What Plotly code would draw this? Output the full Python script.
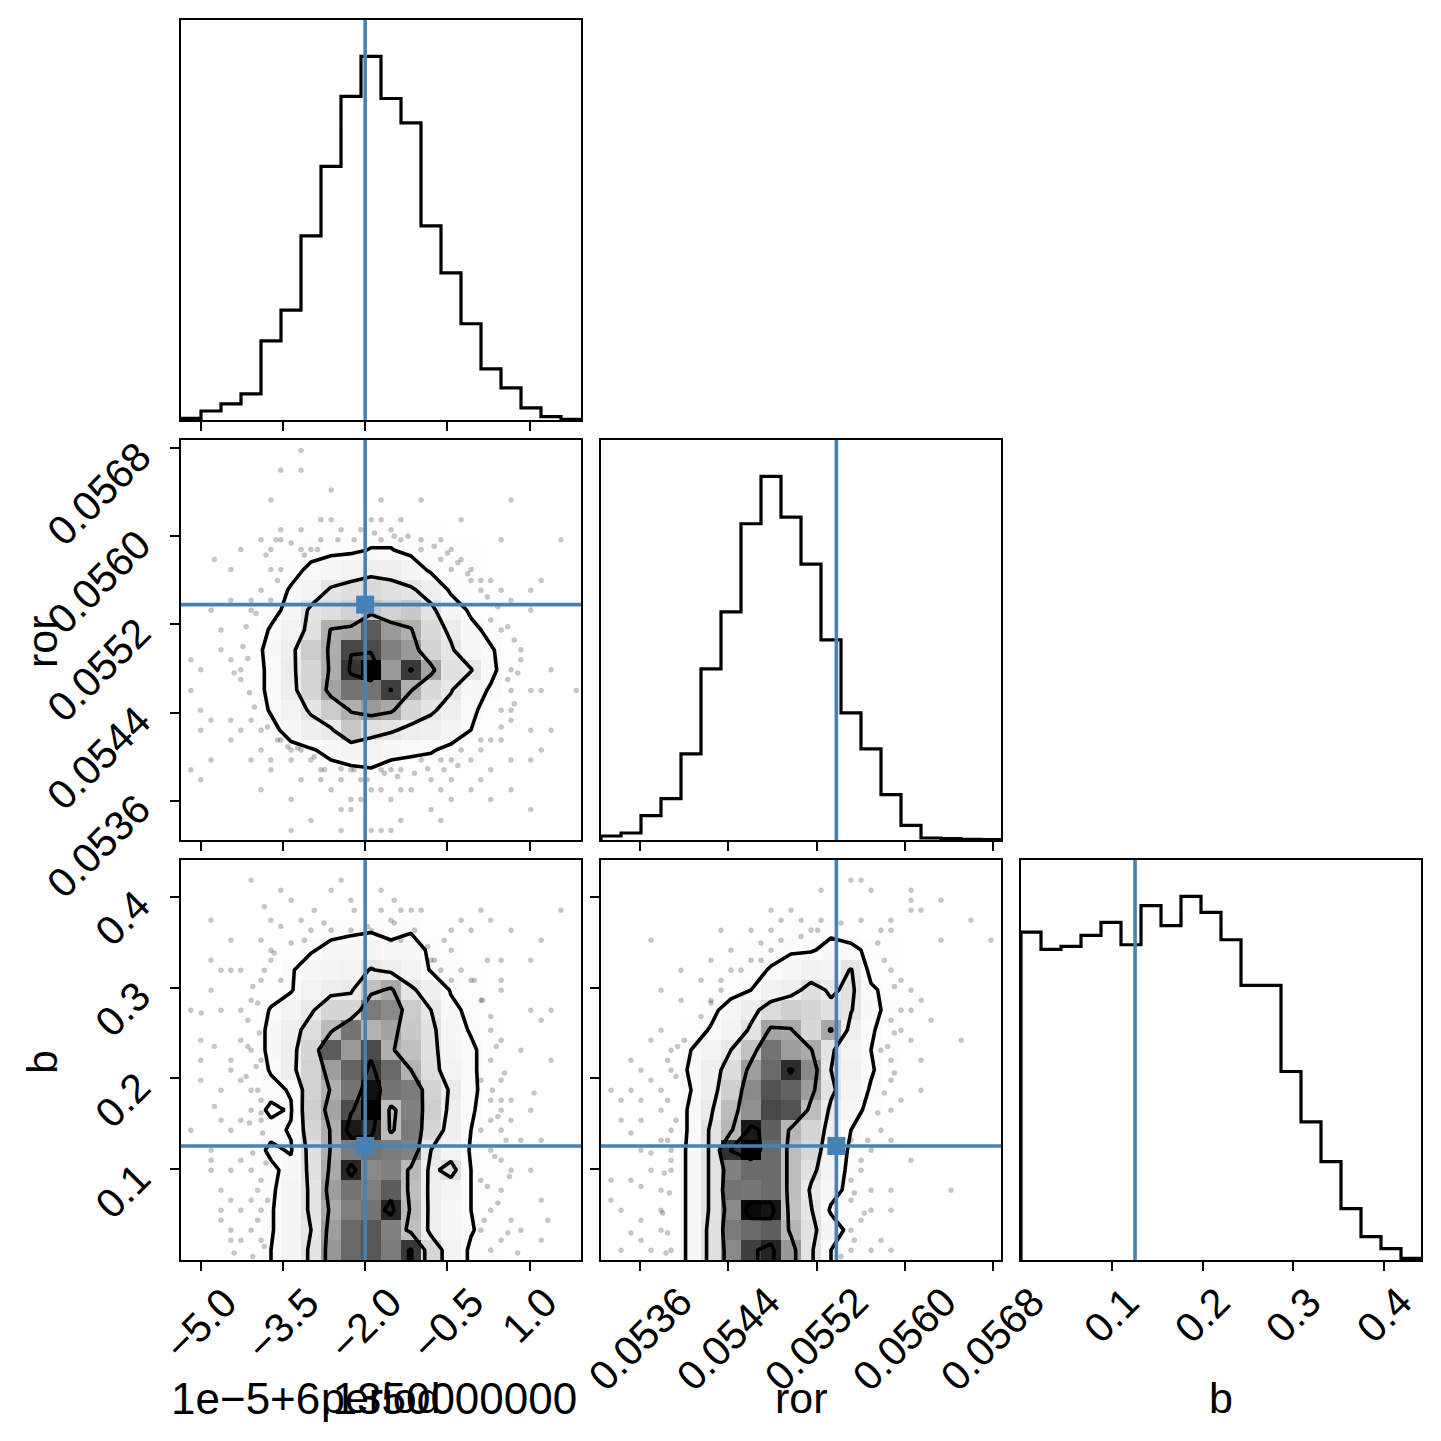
import numpy as np
import plotly.graph_objects as go

# ---------------- data ----------------
period_range = [-5.359, 1.936]      # displayed units (1e-5, offset 6.135)
ror_range = [0.053243, 0.056875]
b_range = [0.0002, 0.4403]
nbins = 20

truth_period = -2.0
truth_ror = 0.05538
truth_b = 0.1257

period_ticks = [-5.0, -3.5, -2.0, -0.5, 1.0]
period_ticktext = ["\u22125.0", "\u22123.5", "\u22122.0", "\u22120.5", "1.0"]
ror_ticks = [0.0536, 0.0544, 0.0552, 0.0560, 0.0568]
ror_ticktext = ["0.0536", "0.0544", "0.0552", "0.0560", "0.0568"]
b_ticks = [0.1, 0.2, 0.3, 0.4]
b_ticktext = ["0.1", "0.2", "0.3", "0.4"]

period_counts = [5, 27, 48, 78, 237, 329, 551, 759, 968, 1088, 962, 889, 581, 440, 288, 153, 96, 36, 10, 2]
ror_counts = [12, 21, 73, 124, 258, 513, 684, 948, 1090, 968, 827, 600, 381, 273, 136, 44, 6, 4, 2, 1]
b_counts = [983, 931, 940, 973, 1012, 945, 1062, 1002, 1090, 1042, 960, 823, 823, 565, 414, 295, 154, 70, 34, 5]

# 2D histograms, rows listed from the top of each panel (high y) to the bottom
H_period_ror = [
    [0, 0, 0, 0, 0, 0, 1, 2, 1, 1, 1, 0, 0, 0, 0, 0, 0, 0, 0, 0],
    [0, 0, 0, 0, 0, 1, 2, 2, 2, 1, 1, 1, 1, 0, 0, 0, 1, 0, 0, 0],
    [0, 0, 0, 0, 2, 3, 3, 4, 4, 3, 4, 4, 3, 3, 2, 2, 1, 0, 0, 0],
    [0, 0, 0, 1, 3, 4, 5, 5, 6, 6, 6, 6, 5, 4, 3, 3, 2, 1, 0, 0],
    [0, 0, 1, 2, 4, 6, 8, 8, 9, 9, 9, 9, 8, 7, 6, 5, 3, 2, 1, 0],
    [0, 1, 2, 3, 5, 8, 10, 11, 11, 13.5, 13.5, 10, 10, 9, 8, 7, 5, 3, 1, 0],
    [0, 1, 2, 4, 6, 10, 15, 18, 22, 26, 25, 20, 11, 9, 8, 7, 5, 3, 1, 0],
    [0, 1, 3, 5, 8, 14, 20, 32, 36, 38, 35, 32, 24, 11, 10, 9, 6, 4, 2, 1],
    [0, 1, 3, 6, 10, 16, 33, 36, 42, 48, 42, 46, 33, 20, 11, 9, 7, 4, 2, 1],
    [0, 2, 4, 7, 14, 22, 34, 56, 58, 80, 63, 56, 38, 27, 16, 10, 7, 4, 2, 1],
    [0, 2, 4, 9, 16, 26, 45, 57, 85, 84, 71, 63, 42, 32, 18, 14, 8, 5, 2, 1],
    [0, 2, 4, 9, 15, 27, 40, 57, 89, 100, 63, 88, 60, 34, 31, 15, 8, 5, 2, 1],
    [0, 2, 4, 9, 15, 26, 40, 60, 74, 74, 87, 56, 39, 31, 17, 12, 7, 4, 2, 1],
    [0, 1, 3, 7, 14, 22, 32, 45, 56, 63, 58, 40, 32, 25, 15, 9, 6, 4, 2, 1],
    [0, 1, 3, 6, 10, 17, 24, 28, 47, 35, 32, 26, 24, 20, 13, 8, 5, 3, 1, 0],
    [0, 1, 2, 4, 7, 10, 12, 16, 20, 22, 16, 15, 14, 10, 7, 5, 3, 2, 1, 0],
    [0, 1, 2, 3, 5, 7, 9, 10, 11, 12, 10, 9, 8, 7, 5, 4, 3, 2, 1, 0],
    [0, 0, 1, 2, 4, 5, 6, 7, 8, 8, 7, 7, 6, 5, 4, 3, 2, 1, 0, 0],
    [0, 0, 1, 1, 2, 3, 4, 4, 5, 5, 5, 4, 4, 3, 2, 2, 1, 1, 0, 0],
    [0, 0, 0, 1, 1, 2, 2, 2, 3, 3, 3, 2, 2, 2, 1, 1, 0, 0, 0, 0],
]

H_period_b = [
    [0, 0, 0, 0, 1, 1, 2, 2, 2, 2, 2, 2, 2, 1, 1, 1, 0, 0, 0, 0],
    [0, 0, 1, 1, 2, 2, 3, 3, 4, 3, 3, 4, 4, 3, 2, 2, 1, 1, 0, 0],
    [0, 1, 1, 2, 3, 4, 5, 6, 6, 6, 6, 6, 6, 5, 4, 3, 2, 1, 1, 0],
    [0, 1, 2, 3, 4, 6, 8, 10, 11, 12, 10, 12, 9, 7, 5, 4, 3, 2, 1, 0],
    [0, 1, 2, 3, 5, 8, 12, 16, 18, 20, 16, 18, 11, 8, 6, 5, 3, 2, 1, 0],
    [0, 1, 2, 4, 7, 12, 18, 20, 22, 31, 26, 22, 12, 10, 8, 6, 4, 2, 1, 0],
    [0, 1, 3, 5, 8, 12, 22, 26, 28, 50, 58, 32, 24, 12, 9, 7, 4, 2, 1, 0],
    [0, 2, 3, 5, 14, 20, 28, 40, 40, 72, 68, 45, 30, 16, 10, 7, 5, 2, 1, 0],
    [0, 2, 3, 6, 16, 24, 36, 52, 74, 55, 60, 46, 34, 18, 12, 8, 5, 3, 1, 0],
    [0, 2, 3, 6, 16, 26, 40, 80, 63, 84, 56, 50, 35, 20, 15, 8, 5, 3, 1, 0],
    [0, 2, 3, 6, 14, 26, 42, 62, 78, 88, 77, 55, 36, 22, 15, 8, 5, 3, 1, 0],
    [0, 2, 3, 7, 10, 14, 42, 56, 74, 97, 74, 72, 42, 28, 15, 9, 5, 3, 1, 0],
    [0, 2, 4, 8, 15, 12, 44, 60, 84, 100, 50, 70, 44, 26, 14, 9, 5, 3, 1, 0],
    [0, 2, 4, 7, 10, 14, 40, 56, 95, 92, 52, 72, 40, 24, 13, 9, 5, 3, 1, 0],
    [0, 2, 4, 8, 15, 12, 36, 56, 72, 74, 72, 70, 30, 22, 12, 9, 5, 3, 1, 0],
    [0, 2, 4, 7, 11, 16, 34, 58, 92, 68, 70, 52, 26, 36, 13, 8, 5, 3, 1, 0],
    [0, 2, 3, 6, 11, 20, 32, 62, 74, 71, 80, 50, 26, 20, 13, 8, 5, 3, 1, 0],
    [0, 2, 3, 6, 12, 20, 32, 58, 71, 74, 92, 52, 26, 18, 13, 8, 5, 3, 1, 0],
    [0, 2, 3, 6, 12, 20, 30, 62, 77, 81, 70, 50, 26, 18, 14, 8, 5, 3, 1, 0],
    [0, 2, 3, 6, 13, 20, 32, 64, 77, 81, 72, 88, 40, 22, 11, 8, 5, 3, 1, 0],
]

H_ror_b = [
    [0, 0, 0, 0, 0, 0, 0, 0, 0, 0, 0, 0, 1, 1, 1, 1, 0, 0, 0, 0],
    [0, 0, 0, 0, 0, 0, 0, 0, 1, 1, 1, 2, 2, 2, 2, 1, 1, 0, 0, 0],
    [0, 0, 0, 0, 0, 1, 1, 2, 3, 3, 4, 4, 4, 3, 3, 2, 1, 1, 0, 0],
    [0, 0, 0, 1, 1, 2, 3, 4, 6, 8, 9, 11, 9, 7, 5, 4, 2, 1, 0, 0],
    [0, 0, 1, 1, 2, 3, 5, 8, 11, 12, 12, 16, 15, 11, 8, 5, 3, 1, 0, 0],
    [0, 0, 1, 2, 3, 5, 8, 11, 13.5, 17, 22, 20, 31, 9, 8, 5, 3, 1, 0, 0],
    [0, 0, 1, 2, 4, 7, 9, 13, 22, 25, 35, 28, 33, 15, 9, 5, 3, 1, 0, 0],
    [0, 1, 2, 3, 5, 10, 18, 26, 36, 42, 40, 33, 31, 16, 10, 5, 3, 1, 0, 0],
    [0, 1, 2, 4, 8, 14, 20, 32, 58, 56, 38, 57, 24, 14, 9, 5, 3, 1, 0, 0],
    [0, 1, 2, 4, 13, 20, 30, 48, 72, 60, 56, 32, 20, 13, 8, 5, 3, 1, 0, 0],
    [0, 1, 2, 5, 15, 24, 36, 60, 74, 88, 66, 30, 22, 14, 8, 4, 2, 1, 0, 0],
    [0, 1, 2, 5, 13, 24, 42, 66, 80, 76, 60, 33, 20, 12, 7, 4, 2, 1, 0, 0],
    [0, 1, 2, 5, 15, 28, 50, 64, 82, 80, 50, 27, 17, 10, 6, 4, 2, 1, 0, 0],
    [0, 1, 2, 5, 15, 32, 52, 92, 77, 52, 40, 25, 13, 9, 6, 4, 2, 1, 0, 0],
    [0, 1, 2, 5, 16, 32, 87, 97, 74, 50, 38, 22, 11, 8, 5, 3, 2, 1, 0, 0],
    [0, 1, 2, 5, 16, 32, 68, 74, 74, 50, 34, 20, 10, 7, 5, 3, 2, 1, 0, 0],
    [0, 1, 2, 5, 16, 32, 72, 71, 74, 50, 28, 18, 9, 6, 4, 3, 2, 1, 0, 0],
    [0, 1, 2, 5, 16, 32, 66, 95, 93, 48, 31, 11, 8, 6, 4, 3, 2, 1, 0, 0],
    [0, 1, 2, 5, 16, 34, 70, 74, 77, 52, 34, 20, 9, 6, 4, 3, 2, 1, 0, 0],
    [0, 1, 2, 5, 16, 34, 66, 84, 90, 62, 32, 13, 8, 5, 4, 2, 1, 1, 0, 0],
]

contour_levels = [13, 30, 55, 86]

# samples lying outside the outer contour
pr_period = [-3.17, -3.54, -3.17, -2.62, -3.72, -1.71, -0.98, 0.66, -2.81, -2.62, -1.89, -1.71, -1.35, -0.25,
             -3.54, -3.17, -2.44, -2.08, -1.53, 0.48, -3.90, -3.72, -3.54, -3.17, -2.99, -2.81, -1.71, -1.35,
             -0.62, -0.43, -0.25, 1.57, -4.27, -3.72, -3.54, -4.45, -4.75, -0.98, -0.62, -0.43, -0.07, -0.07,
             0.29, 1.02, 1.21, 0.48, 0.66, 0.11, -4.08, -3.72, -4.45, -4.81, -4.08, 1.02, 0.29, 0.48, -4.63,
             -4.63, -5.18, -5.00, -4.45, -4.27, -5.18, -4.27, 0.84, 0.84, 0.66, 1.39, 1.02, 1.21, 0.66, 1.85,
             1.39, 1.02, 0.66, 0.48, -5.00, -4.81, -5.00, -4.45, -4.27, -4.08, -3.90, -3.54, -4.45, -3.90,
             -3.72, -3.35, -3.17, -2.99, -5.18, -5.00, -4.81, -4.08, -3.72, -3.35, -2.81, -2.81, -2.44, -2.26,
             -2.08, -1.71, -1.53, -1.35, -0.98, -0.62, -0.43, -0.25, 0.11, 0.48, 0.66, 1.02, 1.21, 0.29, 0.66,
             0.11, -0.07, -0.43, -0.62, -0.80, -1.16, -1.35, -1.53, -1.71, -1.89, -2.08, -2.26, -2.62, -3.17,
             -3.35, -3.90, -2.99, -2.44, -2.26, -1.71, -1.35, -0.80, -0.62, -0.43, 0.29, 1.02, -3.35, -2.44,
             -1.89, -1.53,
             -3.63, -3.35, -3.81, -3.60, -3.90, -3.99, -4.17, -4.23, -4.14, -4.39, -4.11, -4.02, -3.78, -3.60,
             -3.41, -3.23, -2.93, -2.74, -2.44, -2.20, -1.96, -1.65, -1.41, -1.10, -0.86, -0.56, -0.31, -0.07,
             0.11, 0.29, 0.48, 0.66, 0.72, 0.60, 0.78, 0.72, 0.60, 0.42, 0.23, 0.11, -0.13, -0.31, -0.50, -0.74,
             -0.98, -1.22, -1.47, -1.83, -2.20, -2.50, -2.87, -3.11]
pr_ror = [0.05678, 0.05660, 0.05660, 0.05642, 0.05633, 0.05633, 0.05633, 0.05633, 0.05615, 0.05615, 0.05615,
          0.05615, 0.05615, 0.05615, 0.05606, 0.05606, 0.05606, 0.05606, 0.05606, 0.05597, 0.05597, 0.05588,
          0.05597, 0.05588, 0.05588, 0.05597, 0.05597, 0.05597, 0.05597, 0.05588, 0.05579, 0.05597, 0.05588,
          0.05570, 0.05570, 0.05570, 0.05579, 0.05588, 0.05579, 0.05570, 0.05570, 0.05560, 0.05560, 0.05551,
          0.05560, 0.05551, 0.05542, 0.05551, 0.05542, 0.05542, 0.05542, 0.05533, 0.05533, 0.05533, 0.05524,
          0.05515, 0.05515, 0.05497, 0.05488, 0.05479, 0.05488, 0.05479, 0.05460, 0.05470, 0.05497, 0.05488,
          0.05479, 0.05479, 0.05460, 0.05460, 0.05460, 0.05460, 0.05424, 0.05424, 0.05442, 0.05442, 0.05442,
          0.05433, 0.05424, 0.05433, 0.05424, 0.05433, 0.05424, 0.05415, 0.05415, 0.05406, 0.05397, 0.05406,
          0.05406, 0.05397, 0.05388, 0.05379, 0.05397, 0.05397, 0.05388, 0.05397, 0.05388, 0.05379, 0.05379,
          0.05388, 0.05379, 0.05388, 0.05388, 0.05388, 0.05397, 0.05397, 0.05397, 0.05406, 0.05415, 0.05415,
          0.05397, 0.05397, 0.05406, 0.05388, 0.05370, 0.05379, 0.05370, 0.05379, 0.05370, 0.05379, 0.05370,
          0.05370, 0.05361, 0.05370, 0.05370, 0.05361, 0.05361, 0.05370, 0.05379, 0.05361, 0.05370, 0.05342,
          0.05352, 0.05352, 0.05333, 0.05342, 0.05352, 0.05342, 0.05361, 0.05361, 0.05352, 0.05333, 0.05333,
          0.05333, 0.05333,
          0.05597, 0.05594, 0.05583, 0.05560, 0.05551, 0.05530, 0.05518, 0.05500, 0.05489, 0.05476, 0.05458,
          0.05445, 0.05427, 0.05415, 0.05409, 0.05408, 0.05400, 0.05388, 0.05389, 0.05388, 0.05379, 0.05385,
          0.05382, 0.05385, 0.05389, 0.05388, 0.05392, 0.05397, 0.05406, 0.05415, 0.05427, 0.05433, 0.05448,
          0.05470, 0.05476, 0.05506, 0.05518, 0.05536, 0.05545, 0.05560, 0.05566, 0.05576, 0.05585, 0.05591,
          0.05597, 0.05600, 0.05600, 0.05603, 0.05597, 0.05597, 0.05588, 0.05583]

pb_period = [-4.08, -3.54, -3.35, -2.62, -2.26, -2.44, -1.71, -1.35, -1.16, -0.98, -1.53, 0.11, 1.57, -4.81,
             -3.72, -3.17, -2.99, -2.62, -2.26, -3.90, -3.72, -1.89, -1.53, -1.35, -0.43, -0.25, -0.07, 0.29,
             0.66, 1.21, -4.45, -4.81, -4.63, -4.45, -4.27, -3.90, -3.54, -3.72, -0.80, -0.62, -0.43, -0.25,
             -0.07, 0.48, 1.02, 0.48, 0.48, 0.11, 1.02, 1.39, -5.18, -4.63, -4.27, -4.08, -4.81, -0.43,
             -5.00, -4.27, -5.00, -4.45, -4.08, -3.90, -5.00, -4.63, -4.45, -4.27, -4.08, -3.90, -5.18, -4.63,
             -4.45, -4.27, -4.08, -3.90, -4.81, -4.27, -4.45, -4.08, -3.90, -4.63, -4.45, -4.08, -3.90, -4.27,
             -4.63, -4.45, -4.08, -3.90, -4.45, -4.27, -4.81, 0.29, 0.48, 0.84, 1.39, 0.29, 0.48, 0.11, 0.29,
             0.48, 0.66, 1.02, 0.29, 0.11, 0.48, 0.84, 1.21, 0.29, 0.48, 0.66, 1.02, 0.11, 0.48, 1.21, 0.29,
             0.66, 0.84, 1.21, 0.11, 0.48,
             -3.66, -3.84, -4.05, -3.96, -4.14, -3.93, -4.14, -3.99, -4.17, -3.96, -3.90, -4.11, -3.87, -4.05,
             -3.81, -3.96, -3.78, -3.96, -3.84, -4.05, -4.39, -4.63, -4.81, -4.75, -4.99, -4.75,
             0.23, -0.01, 0.14, 0.29, 0.39, 0.54, 0.32, 0.48, 0.66, 0.42, 0.57, 0.36, 0.63, 0.23, 0.42, 0.17,
             0.60, 0.29, 0.78, 1.33, 1.08, 1.21,
             -2.93, -2.75, -2.20, -1.96, -1.71, -1.47, -1.10, -0.86, -0.56, -0.74, -3.35, -3.11, -3.54, -3.84,
             -1.47]
pb_b = [0.418, 0.407, 0.396, 0.407, 0.396, 0.418, 0.407, 0.385, 0.385, 0.385, 0.374, 0.385, 0.385, 0.374,
        0.374, 0.374, 0.363, 0.363, 0.363, 0.352, 0.341, 0.363, 0.352, 0.352, 0.363, 0.374, 0.363, 0.374,
        0.363, 0.352, 0.352, 0.330, 0.319, 0.319, 0.319, 0.308, 0.308, 0.330, 0.330, 0.319, 0.308, 0.319,
        0.308, 0.330, 0.330, 0.308, 0.297, 0.286, 0.275, 0.275, 0.275, 0.275, 0.275, 0.286, 0.297, 0.341,
        0.242, 0.242, 0.220, 0.220, 0.231, 0.220, 0.198, 0.187, 0.209, 0.198, 0.187, 0.176, 0.143, 0.154,
        0.143, 0.154, 0.165, 0.154, 0.121, 0.110, 0.099, 0.099, 0.088, 0.077, 0.066, 0.066, 0.055, 0.055,
        0.044, 0.033, 0.033, 0.022, 0.022, 0.022, 0.099, 0.253, 0.242, 0.231, 0.220, 0.220, 0.198, 0.198,
        0.176, 0.165, 0.154, 0.165, 0.154, 0.143, 0.143, 0.132, 0.132, 0.121, 0.110, 0.099, 0.099, 0.088,
        0.077, 0.066, 0.055, 0.044, 0.033, 0.022, 0.033, 0.022,
        0.338, 0.319, 0.301, 0.283, 0.264, 0.250, 0.235, 0.213, 0.202, 0.187, 0.162, 0.151, 0.140, 0.118,
        0.107, 0.077, 0.066, 0.044, 0.015, 0.004, 0.008, 0.055, 0.110, 0.169, 0.272, 0.235,
        0.330, 0.308, 0.286, 0.268, 0.235, 0.206, 0.187, 0.176, 0.176, 0.158, 0.132, 0.114, 0.092, 0.081,
        0.063, 0.044, 0.030, 0.011, 0.008, 0.044, 0.184, 0.264,
        0.385, 0.371, 0.385, 0.367, 0.385, 0.371, 0.363, 0.345, 0.352, 0.330, 0.349, 0.352, 0.367, 0.389,
        0.396]

rb_ror = [0.055241, 0.055604, 0.055513, 0.055695, 0.056058, 0.056058, 0.056330, 0.054787, 0.054968, 0.055241,
          0.054605, 0.054787, 0.054877, 0.055059, 0.055150, 0.055604, 0.055785, 0.055876, 0.055876, 0.056058,
          0.056149, 0.056603, 0.056330, 0.056784, 0.054333, 0.053697, 0.054423, 0.054605, 0.054696, 0.054787,
          0.054423, 0.054242, 0.053969, 0.054151, 0.054333, 0.054242, 0.053969, 0.053788, 0.055876, 0.055967,
          0.056058, 0.056149, 0.056058, 0.055876, 0.056240, 0.055967, 0.056512, 0.055785, 0.056058, 0.055876,
          0.056149, 0.056149, 0.055876, 0.055967, 0.055876, 0.055785, 0.055876, 0.056058, 0.055695, 0.055513,
          0.055604, 0.055513, 0.055695, 0.055876, 0.056421, 0.055513, 0.055695, 0.055876, 0.055604, 0.055513,
          0.055785, 0.055513, 0.055695, 0.055876, 0.053334, 0.053425, 0.053515, 0.053606, 0.053697, 0.053788,
          0.053879, 0.053879, 0.053697, 0.053515, 0.053788, 0.053606, 0.053788, 0.053606, 0.053788, 0.053879,
          0.053879, 0.053606, 0.053334, 0.053515, 0.053697, 0.053879, 0.053788, 0.053334, 0.053425, 0.053606,
          0.053788, 0.053425, 0.053606, 0.053697, 0.053879, 0.053788,
          0.054242, 0.054151, 0.054333, 0.054514, 0.054696, 0.054877, 0.055059, 0.055210, 0.055422, 0.055755,
          0.055816, 0.055907, 0.055967, 0.055907, 0.055846, 0.055907, 0.055816, 0.055755, 0.055665, 0.055604,
          0.055543, 0.055634, 0.055543, 0.055422, 0.053939, 0.053848, 0.053924, 0.053848, 0.053924, 0.053848,
          0.053879, 0.053818, 0.053864, 0.053803, 0.053848, 0.053833, 0.053697, 0.053515, 0.053425, 0.053606,
          0.053515, 0.054000]
rb_b = [0.407, 0.418, 0.418, 0.407, 0.407, 0.396, 0.396, 0.385, 0.385, 0.374, 0.363, 0.363, 0.374, 0.374,
        0.363, 0.374, 0.363, 0.363, 0.374, 0.385, 0.385, 0.374, 0.352, 0.352, 0.363, 0.352, 0.341, 0.330,
        0.330, 0.341, 0.319, 0.330, 0.319, 0.308, 0.297, 0.286, 0.286, 0.297, 0.319, 0.308, 0.297, 0.286,
        0.275, 0.264, 0.264, 0.253, 0.242, 0.231, 0.242, 0.220, 0.220, 0.187, 0.198, 0.176, 0.165, 0.143,
        0.132, 0.110, 0.121, 0.132, 0.110, 0.088, 0.077, 0.077, 0.077, 0.066, 0.055, 0.055, 0.044, 0.033,
        0.022, 0.011, 0.011, 0.011, 0.187, 0.176, 0.187, 0.209, 0.198, 0.187, 0.209, 0.231, 0.242, 0.220,
        0.253, 0.176, 0.165, 0.154, 0.132, 0.143, 0.121, 0.121, 0.088, 0.088, 0.099, 0.099, 0.077, 0.066,
        0.055, 0.044, 0.055, 0.011, 0.022, 0.011, 0.011, 0.033,
        0.283, 0.268, 0.308, 0.319, 0.349, 0.352, 0.356, 0.363, 0.371, 0.349, 0.330, 0.301, 0.275, 0.250,
        0.235, 0.206, 0.184, 0.162, 0.132, 0.099, 0.074, 0.052, 0.022, 0.004, 0.235, 0.220, 0.202, 0.176,
        0.154, 0.132, 0.110, 0.096, 0.074, 0.052, 0.030, 0.008, 0.118, 0.140, 0.154, 0.081, 0.030, 0.242]

# ---------------- style ----------------
W = 1441
FONT = "Liberation Sans, Arial, sans-serif"
TICK_FS = 41
LABEL_FS = 43
OFFSET_FS = 44
BLUE = "#4682b4"
col_px = [(181, 581), (601, 1001), (1021, 1421)]
row_px = [(20, 420), (440, 840), (860, 1260)]


def xdom(c):
    return [col_px[c][0] / W, col_px[c][1] / W]


def ydom(r):
    return [1 - row_px[r][1] / W, 1 - row_px[r][0] / W]


def edges(rng):
    return np.linspace(rng[0], rng[1], nbins + 1)


def centers(rng):
    e = edges(rng)
    return 0.5 * (e[1:] + e[:-1])


# density colormap: black with alpha t over transparent white (as corner's pcolor)
cscale = []
for k in range(21):
    t = k / 20
    g = int(round(255 * (1 - t)))
    cscale.append([t, f"rgba({g},{g},{g},{t:.3f})"])

fig = go.Figure()


def add_hist(counts, rng, truth, xa, ya):
    e = edges(rng)
    xs = np.repeat(e, 2)
    ys = np.concatenate([[0], np.repeat(counts, 2), [0]])
    fig.add_trace(go.Scatter(x=xs, y=ys, mode="lines", line=dict(color="black", width=3.2),
                             xaxis=xa, yaxis=ya, hoverinfo="skip", showlegend=False))
    fig.add_shape(type="line", xref=xa, yref=ya + " domain", x0=truth, x1=truth, y0=0, y1=1,
                  line=dict(color=BLUE, width=3.6))


def add_2d(Hrows, xr, yr, px, py, tx, ty, xa, ya):
    H = np.array(Hrows[::-1], dtype=float)  # bottom row first
    xc, yc = centers(xr), centers(yr)
    fig.add_trace(go.Scatter(x=px, y=py, mode="markers",
                             marker=dict(size=5.5, color="rgba(0,0,0,0.22)", line=dict(width=0)),
                             xaxis=xa, yaxis=ya, hoverinfo="skip", showlegend=False))
    fig.add_trace(go.Heatmap(x=xc, y=yc, z=H, colorscale=cscale, zmin=0, zmax=H.max(),
                             showscale=False, xaxis=xa, yaxis=ya, hoverinfo="skip"))
    # extended grid, as in corner.hist2d
    H2 = np.zeros((H.shape[0] + 4, H.shape[1] + 4))
    H2[2:-2, 2:-2] = H
    H2[2:-2, 1] = H[:, 0]
    H2[2:-2, -2] = H[:, -1]
    H2[1, 2:-2] = H[0]
    H2[-2, 2:-2] = H[-1]
    H2[1, 1] = H[0, 0]
    H2[1, -2] = H[0, -1]
    H2[-2, 1] = H[-1, 0]
    H2[-2, -2] = H[-1, -1]
    dx, dy = xc[1] - xc[0], yc[1] - yc[0]
    xc2 = np.concatenate([xc[0] + np.array([-2, -1]) * dx, xc, xc[-1] + np.array([1, 2]) * dx])
    yc2 = np.concatenate([yc[0] + np.array([-2, -1]) * dy, yc, yc[-1] + np.array([1, 2]) * dy])
    for lev in contour_levels:
        fig.add_trace(go.Contour(x=xc2, y=yc2, z=H2, autocontour=False,
                                 contours=dict(start=lev, end=lev, size=1, coloring="none"),
                                 line=dict(color="black", width=3.6, smoothing=0),
                                 showscale=False, xaxis=xa, yaxis=ya, hoverinfo="skip"))
    fig.add_shape(type="line", xref=xa, yref=ya + " domain", x0=tx, x1=tx, y0=0, y1=1,
                  line=dict(color=BLUE, width=3.6))
    fig.add_shape(type="line", xref=xa + " domain", yref=ya, x0=0, x1=1, y0=ty, y1=ty,
                  line=dict(color=BLUE, width=3.6))
    fig.add_trace(go.Scatter(x=[tx], y=[ty], mode="markers",
                             marker=dict(symbol="square", size=18, color=BLUE, line=dict(width=0)),
                             xaxis=xa, yaxis=ya, hoverinfo="skip", showlegend=False, cliponaxis=False))


add_hist(period_counts, period_range, truth_period, "x", "y")
add_2d(H_period_ror, period_range, ror_range, pr_period, pr_ror, truth_period, truth_ror, "x2", "y2")
add_hist(ror_counts, ror_range, truth_ror, "x3", "y3")
add_2d(H_period_b, period_range, b_range, pb_period, pb_b, truth_period, truth_b, "x4", "y4")
add_2d(H_ror_b, ror_range, b_range, rb_ror, rb_b, truth_ror, truth_b, "x5", "y5")
add_hist(b_counts, b_range, truth_b, "x6", "y6")

base = dict(showline=True, mirror=True, linecolor="black", linewidth=1.8, showgrid=False,
            zeroline=False, ticks="outside", ticklen=9, tickwidth=1.8, tickcolor="black",
            showticklabels=False, automargin=False)


def axis(dom, rng, tv=None, anchor=None, noticks=False):
    d = dict(base)
    d.update(domain=dom, range=rng, autorange=False, anchor=anchor)
    if noticks:
        d.update(ticks="", tickvals=[])
    else:
        d.update(tickmode="array", tickvals=tv)
    return d


layout = dict(
    template="none",
    width=W, height=W, autosize=False, margin=dict(l=0, r=0, t=0, b=0, pad=0),
    paper_bgcolor="white", plot_bgcolor="white", showlegend=False,
    font=dict(family=FONT, size=TICK_FS, color="black"),
)
layout["xaxis"] = axis(xdom(0), period_range, period_ticks, "y")
layout["yaxis"] = axis(ydom(0), [0, 1.1 * max(period_counts)], anchor="x", noticks=True)
layout["xaxis2"] = axis(xdom(0), period_range, period_ticks, "y2")
layout["yaxis2"] = axis(ydom(1), ror_range, ror_ticks, "x2")
layout["xaxis3"] = axis(xdom(1), ror_range, ror_ticks, "y3")
layout["yaxis3"] = axis(ydom(1), [0, 1.1 * max(ror_counts)], anchor="x3", noticks=True)
layout["xaxis4"] = axis(xdom(0), period_range, period_ticks, "y4")
layout["yaxis4"] = axis(ydom(2), b_range, b_ticks, "x4")
layout["xaxis5"] = axis(xdom(1), ror_range, ror_ticks, "y5")
layout["yaxis5"] = axis(ydom(2), b_range, b_ticks, "x5")
layout["xaxis6"] = axis(xdom(2), b_range, b_ticks, "y6")
layout["yaxis6"] = axis(ydom(2), [0, 1.1 * max(b_counts)], anchor="x6", noticks=True)

fig.update_layout(**layout)

# rotated tick labels (matplotlib style: x labels centred under the tick, y labels ending at the tick)
X_LABEL_TOP = 1276
for xa, vals, texts in [("x4", period_ticks, period_ticktext),
                        ("x5", ror_ticks, ror_ticktext),
                        ("x6", b_ticks, b_ticktext)]:
    for v, t in zip(vals, texts):
        fig.add_annotation(text=t, x=v, xref=xa, y=1 - X_LABEL_TOP / W, yref="paper",
                           showarrow=False, textangle=-45, xanchor="center", yanchor="top",
                           font=dict(family=FONT, size=TICK_FS, color="black"))
Y_LABEL_RIGHT = 162
for ya, vals, texts in [("y2", ror_ticks, ror_ticktext), ("y4", b_ticks, b_ticktext)]:
    for v, t in zip(vals, texts):
        fig.add_annotation(text=t, x=Y_LABEL_RIGHT / W, xref="paper", y=v, yref=ya,
                           showarrow=False, textangle=-45, xanchor="right", yanchor="top", yshift=18,
                           font=dict(family=FONT, size=TICK_FS, color="black"))


def ann(text, xpx, ypx, size, angle=0, xanchor="center"):
    fig.add_annotation(text=text, x=xpx / W, y=1 - ypx / W, xref="paper", yref="paper",
                       showarrow=False, textangle=angle, xanchor=xanchor, yanchor="middle",
                       font=dict(family=FONT, size=size, color="black"))


ann("1e\u22125+6.1350000000", 579, 1398, OFFSET_FS, xanchor="right")
ann("period", 381, 1398, LABEL_FS)
ann("ror", 801, 1398, LABEL_FS)
ann("b", 1221, 1398, LABEL_FS)
ann("ror", 42, 642, LABEL_FS, angle=-90)
ann("b", 42, 1062, LABEL_FS, angle=-90)

fig.write_html("out.html")
